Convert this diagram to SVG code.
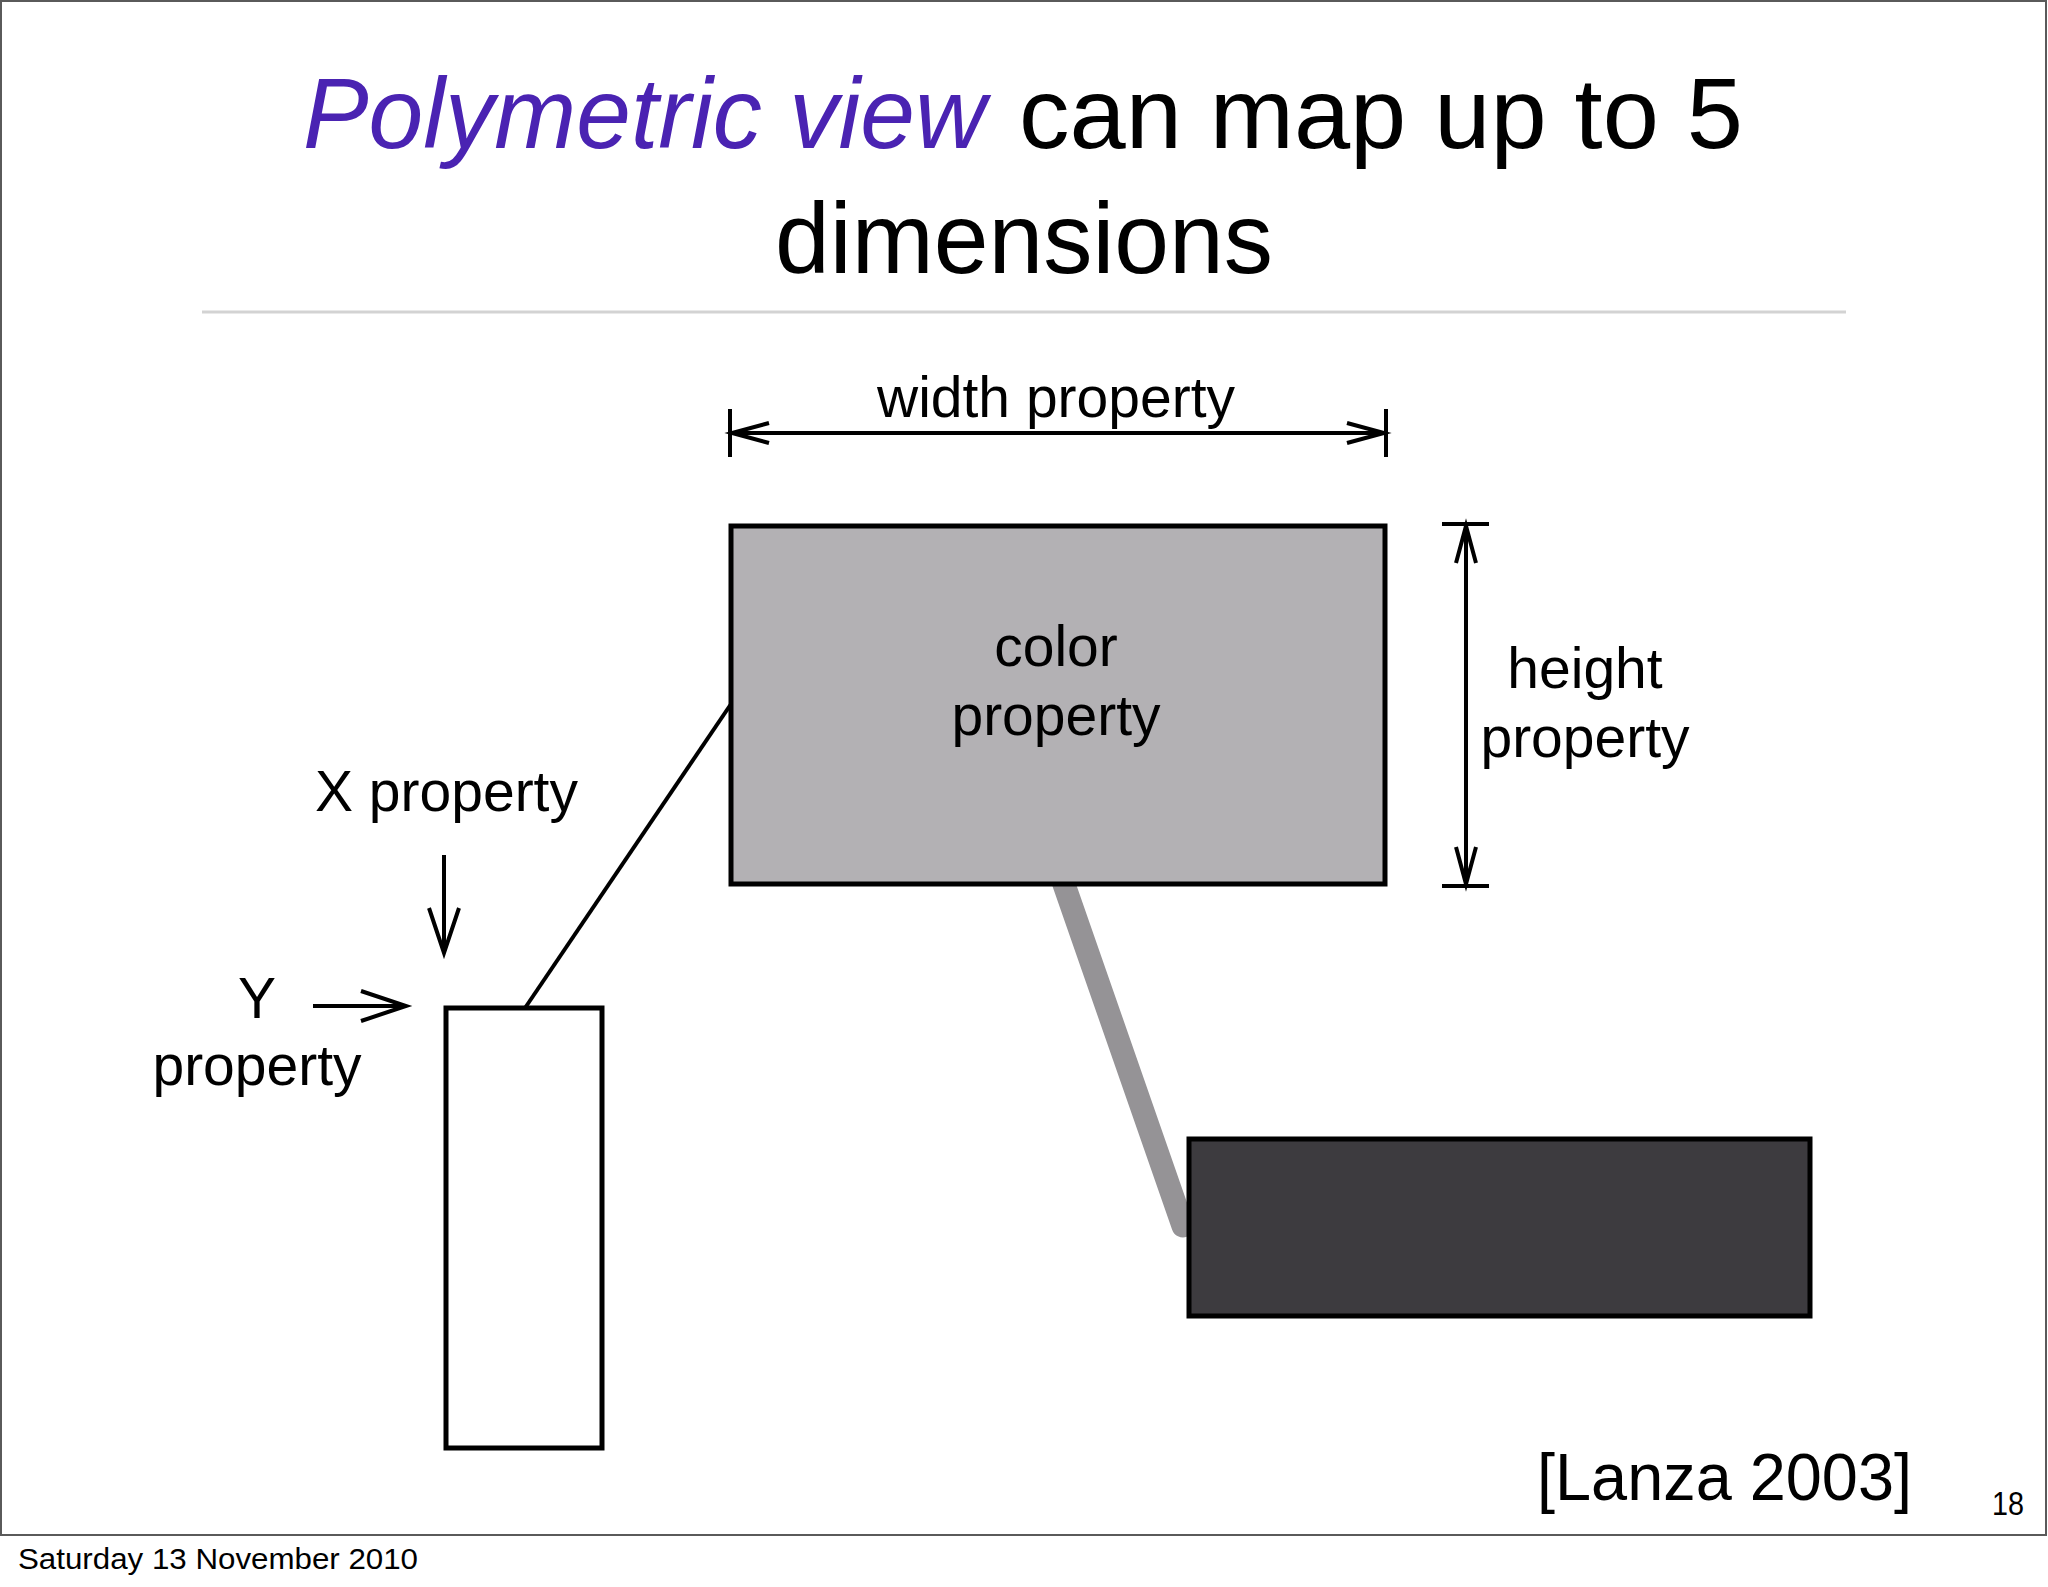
<svg xmlns="http://www.w3.org/2000/svg" width="2048" height="1587" viewBox="0 0 2048 1587">
  <style>
    text { font-family: "Liberation Sans", Helvetica, Arial, sans-serif; fill: #000; }
    .title { font-size: 101px; }
    .lbl { font-size: 57px; }
    .ink { stroke: #000; stroke-width: 4; fill: none; }
    .box { stroke: #000; stroke-width: 5; }
  </style>
  <defs>
    <marker id="head" markerUnits="userSpaceOnUse" viewBox="-40 -14 44 28" refX="0" refY="0" markerWidth="44" markerHeight="28" orient="auto-start-reverse" overflow="visible">
      <path d="M -37 -10 L 0 0 L -37 10" fill="none" stroke="#000" stroke-width="4" stroke-linejoin="miter"/>
    </marker>
    <marker id="headBig" markerUnits="userSpaceOnUse" viewBox="-50 -20 54 40" refX="0" refY="0" markerWidth="54" markerHeight="40" orient="auto" overflow="visible">
      <path d="M -45 -15 L 0 0 L -45 15" fill="none" stroke="#000" stroke-width="4" stroke-linejoin="miter"/>
    </marker>
  </defs>

  <rect x="0" y="0" width="2048" height="1587" fill="#ffffff"/>
  <rect x="1" y="1" width="2045" height="1534" fill="#ffffff" stroke="#5a5a5a" stroke-width="2"/>

  <g id="title">
    <text class="title" x="303" y="148" fill="#4a23b2" style="fill:#4a23b2;font-style:italic" textLength="683" lengthAdjust="spacingAndGlyphs">Polymetric view</text>
    <text class="title" x="1019" y="148" textLength="724" lengthAdjust="spacingAndGlyphs">can map up to 5</text>
    <text class="title" x="1024" y="273" text-anchor="middle" textLength="498" lengthAdjust="spacingAndGlyphs">dimensions</text>
  </g>
  <line x1="202" y1="312" x2="1846" y2="312" stroke="#d3d3d3" stroke-width="3"/>

  <g id="connectors">
    <line x1="1059" y1="870" x2="1183" y2="1226" stroke="#959396" stroke-width="23" stroke-linecap="round"/>
    <line class="ink" x1="525" y1="1008" x2="731" y2="704"/>
  </g>

  <g id="node-color-box">
    <rect class="box" x="731" y="526" width="654" height="358" fill="#b3b1b4"/>
    <text class="lbl" x="1056" y="666" text-anchor="middle">color</text>
    <text class="lbl" x="1056" y="735" text-anchor="middle">property</text>
  </g>
  <g id="node-white-box">
    <rect class="box" x="446" y="1008" width="156" height="440" fill="#ffffff"/>
  </g>
  <g id="node-dark-box">
    <rect class="box" x="1189" y="1139" width="621" height="177" fill="#3d3b3f"/>
  </g>

  <g id="width-dimension">
    <line class="ink" x1="730" y1="409" x2="730" y2="457"/>
    <line class="ink" x1="1386" y1="409" x2="1386" y2="457"/>
    <line class="ink" x1="732" y1="433" x2="1384" y2="433" marker-start="url(#head)" marker-end="url(#head)"/>
    <text class="lbl" x="1056" y="417" text-anchor="middle">width property</text>
  </g>

  <g id="height-dimension">
    <line class="ink" x1="1442" y1="524" x2="1489" y2="524"/>
    <line class="ink" x1="1442" y1="886" x2="1489" y2="886"/>
    <line class="ink" x1="1466" y1="526" x2="1466" y2="884" marker-start="url(#head)" marker-end="url(#head)"/>
    <text class="lbl" x="1585" y="688" text-anchor="middle">height</text>
    <text class="lbl" x="1585" y="757" text-anchor="middle">property</text>
  </g>

  <g id="x-property">
    <text class="lbl" x="315" y="811">X property</text>
    <line class="ink" x1="444" y1="855" x2="444" y2="953" marker-end="url(#headBig)"/>
  </g>
  <g id="y-property">
    <text class="lbl" x="257" y="1018" text-anchor="middle">Y</text>
    <text class="lbl" x="257" y="1085" text-anchor="middle">property</text>
    <line class="ink" x1="313" y1="1006" x2="406" y2="1006" marker-end="url(#headBig)"/>
  </g>

  <g id="footer">
    <text x="1537" y="1500" style="font-size:66px" textLength="375" lengthAdjust="spacingAndGlyphs">[Lanza 2003]</text>
    <text x="1992" y="1515" style="font-size:33px" textLength="32" lengthAdjust="spacingAndGlyphs">18</text>
    <text x="18" y="1569" style="font-size:29px" textLength="400" lengthAdjust="spacingAndGlyphs">Saturday 13 November 2010</text>
  </g>
</svg>
